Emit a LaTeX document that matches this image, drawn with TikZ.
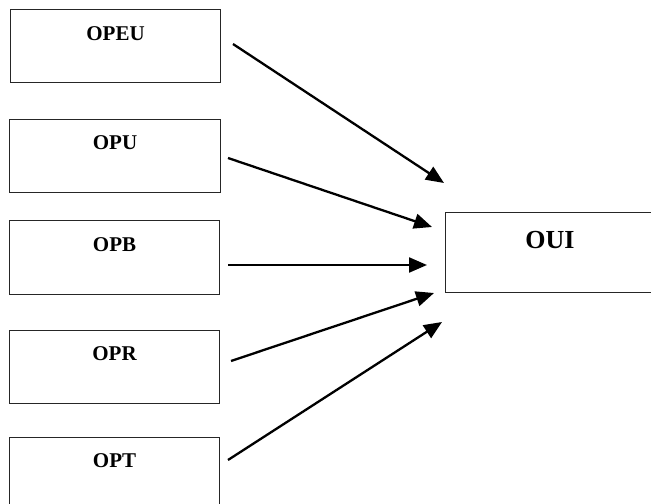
\documentclass[tikz,border=0pt]{standalone}
\usepackage{fontspec}
\setmainfont{Liberation Serif}
\usetikzlibrary{arrows.meta}
\tikzset{
  box/.style={draw=black!85, line width=1bp, minimum width=210bp, minimum height=73bp, inner sep=0pt},
  boxlabel/.style={anchor=base, inner sep=0pt, font=\bfseries\fontsize{21bp}{25bp}\selectfont},
  biglabel/.style={anchor=base, inner sep=0pt, font=\bfseries\fontsize{26bp}{30bp}\selectfont},
  flow/.style={line width=2.3bp, -{Triangle[length=18bp, width=15bp]}}
}
\begin{document}
\begin{tikzpicture}[x=1bp, y=-1bp]
  \useasboundingbox (0,0) rectangle (651,504);
  \clip (0,0) rectangle (651,504);
  \fill[white] (0,0) rectangle (651,504);

  % source boxes
  \node[box] (opeu) at (115.5,46.5) {};
  \node[box] (opu)  at (115,156) {};
  \node[box] (opb)  at (114.5,257.5) {};
  \node[box] (opr)  at (114.5,366.5) {};
  \node[box] (opt)  at (114.5,473.5) {};
  % target box
  \node[box, minimum width=212bp, minimum height=79bp] (oui) at (551,252.5) {};

  % labels near the top of each box
  \node[boxlabel] (topeu) at ([yshift=-31bp]opeu.north) {OPEU};
  \node[boxlabel] (topu)  at ([yshift=-31bp]opu.north) {OPU};
  \node[boxlabel] (topb)  at ([yshift=-31bp]opb.north) {OPB};
  \node[boxlabel] (topr)  at ([yshift=-31bp]opr.north) {OPR};
  \node[boxlabel] (topt)  at ([yshift=-31bp]opt.north) {OPT};
  \node[biglabel] (toui)  at ([xshift=-1bp,yshift=-36bp]oui.north) {OUI};

  % arrow end points
  \coordinate (s1) at (233,44);  \coordinate (e1) at (444,183);
  \coordinate (s2) at (228,158); \coordinate (e2) at (432,227);
  \coordinate (s3) at (228,265); \coordinate (e3) at (427,265);
  \coordinate (s4) at (231,361); \coordinate (e4) at (434,293);
  \coordinate (s5) at (228,460); \coordinate (e5) at (442,322);

  \draw[flow] (s1) -- (e1);
  \draw[flow] (s2) -- (e2);
  \draw[flow] (s3) -- (e3);
  \draw[flow] (s4) -- (e4);
  \draw[flow] (s5) -- (e5);
\end{tikzpicture}
\end{document}
